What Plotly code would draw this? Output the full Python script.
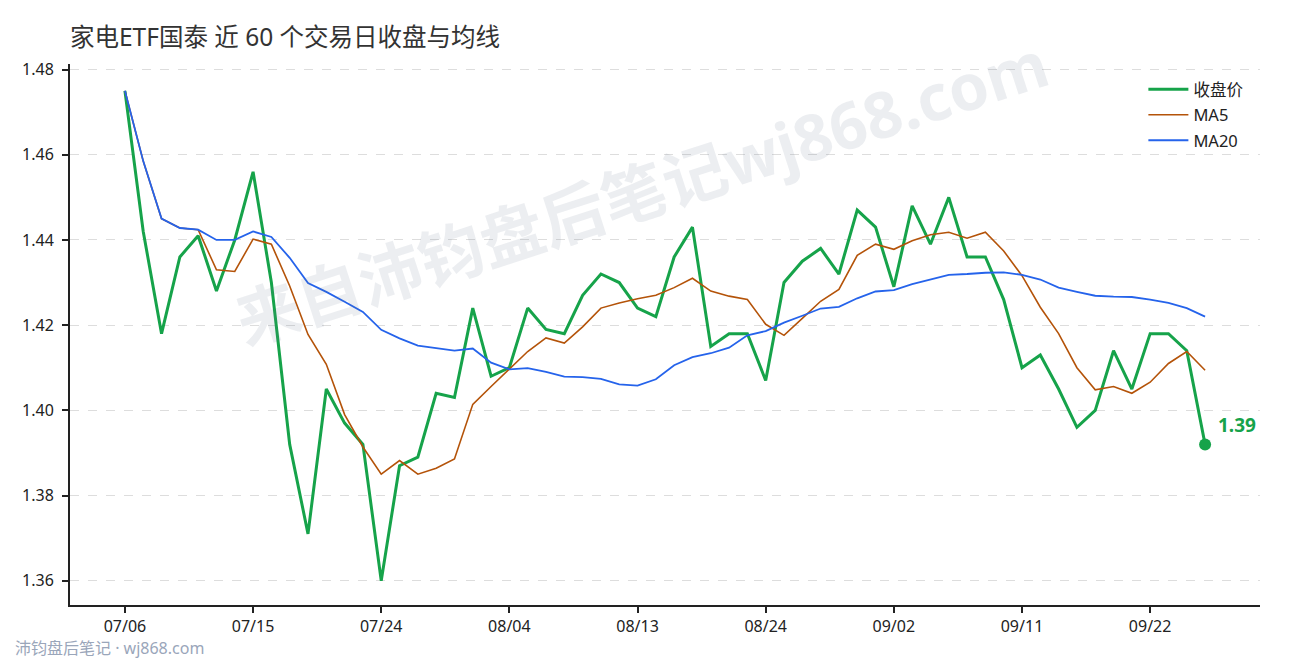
import plotly.graph_objects as go

# 近 60 个交易日
dates = [
    "07/06", "07/07", "07/08", "07/09", "07/10", "07/13", "07/14", "07/15", "07/16", "07/17",
    "07/20", "07/21", "07/22", "07/23", "07/24", "07/27", "07/28", "07/29", "07/30", "07/31",
    "08/03", "08/04", "08/05", "08/06", "08/07", "08/10", "08/11", "08/12", "08/13", "08/14",
    "08/17", "08/18", "08/19", "08/20", "08/21", "08/24", "08/25", "08/26", "08/27", "08/28",
    "08/31", "09/01", "09/02", "09/03", "09/04", "09/07", "09/08", "09/09", "09/10", "09/11",
    "09/14", "09/15", "09/16", "09/17", "09/18", "09/21", "09/22", "09/23", "09/24", "09/25",
]

close = [
    1.475, 1.442, 1.418, 1.436, 1.441, 1.428, 1.440, 1.456, 1.430, 1.392,
    1.371, 1.405, 1.397, 1.392, 1.360, 1.387, 1.389, 1.404, 1.403, 1.424,
    1.408, 1.410, 1.424, 1.419, 1.418, 1.427, 1.432, 1.430, 1.424, 1.422,
    1.436, 1.443, 1.415, 1.418, 1.418, 1.407, 1.430, 1.435, 1.438, 1.432,
    1.447, 1.443, 1.429, 1.448, 1.439, 1.450, 1.436, 1.436, 1.426, 1.410,
    1.413, 1.405, 1.396, 1.400, 1.414, 1.405, 1.418, 1.418, 1.414, 1.392,
]

ma5 = [
    1.4750, 1.4585, 1.4450, 1.4428, 1.4424, 1.4330, 1.4326, 1.4402, 1.4390, 1.4292,
    1.4178, 1.4108, 1.3990, 1.3914, 1.3850, 1.3882, 1.3850, 1.3864, 1.3886, 1.4014,
    1.4056, 1.4098, 1.4138, 1.4170, 1.4158, 1.4196, 1.4240, 1.4252, 1.4262, 1.4270,
    1.4288, 1.4310, 1.4280, 1.4268, 1.4260, 1.4202, 1.4176, 1.4216, 1.4256, 1.4284,
    1.4364, 1.4390, 1.4378, 1.4398, 1.4412, 1.4418, 1.4404, 1.4418, 1.4374, 1.4316,
    1.4242, 1.4180, 1.4100, 1.4048, 1.4056, 1.4040, 1.4066, 1.4110, 1.4138, 1.4094,
]

ma20 = [
    1.4750, 1.4585, 1.4450, 1.4428, 1.4424, 1.4400, 1.4400, 1.4420, 1.4407, 1.4358,
    1.4299, 1.4278, 1.4255, 1.4231, 1.4189, 1.4169, 1.4152, 1.4146, 1.4140, 1.4145,
    1.4112, 1.4096, 1.4099, 1.4090, 1.4079, 1.4078, 1.4074, 1.4061, 1.4058, 1.4073,
    1.4106, 1.4125, 1.4134, 1.4147, 1.4176, 1.4186, 1.4206, 1.4222, 1.4239, 1.4243,
    1.4263, 1.4279, 1.4282, 1.4296, 1.4307, 1.4318, 1.4320, 1.4323, 1.4324, 1.4318,
    1.4307, 1.4288, 1.4278, 1.4269, 1.4267, 1.4266, 1.4260, 1.4252, 1.4240, 1.4220,
]

tick_idx = [0, 7, 14, 21, 28, 35, 42, 49, 56]
y_ticks = [1.36, 1.38, 1.40, 1.42, 1.44, 1.46, 1.48]

GREEN = "#16a34a"
ORANGE = "#b45309"
BLUE = "#2563eb"
FONT = "Noto Sans, Noto Sans CJK SC"

idx = list(range(len(close)))

fig = go.Figure()
fig.add_trace(go.Scatter(x=idx, y=close, mode="lines", name="收盘价",
                         line=dict(color=GREEN, width=3), legendgroup="a"))
fig.add_trace(go.Scatter(x=idx, y=ma5, mode="lines", name="MA5",
                         line=dict(color=ORANGE, width=1.6), legendgroup="b"))
fig.add_trace(go.Scatter(x=idx, y=ma20, mode="lines", name="MA20",
                         line=dict(color=BLUE, width=1.8), legendgroup="c"))
fig.add_trace(go.Scatter(x=[idx[-1]], y=[close[-1]], mode="markers", showlegend=False,
                         marker=dict(color=GREEN, size=12)))

fig.add_annotation(x=idx[-1], y=close[-1], text=f"<b>{close[-1]:.2f}</b>",
                   showarrow=False, xanchor="left", yanchor="middle",
                   xshift=11, yshift=19, font=dict(color=GREEN, size=19, family=FONT))

# watermark
fig.add_annotation(x=0.48, y=1.088, xref="paper", yref="paper",
                   text="<b>来自沛钧盘后笔记wj868.com</b>", showarrow=False,
                   textangle=-18, font=dict(size=64, color="rgba(100,116,139,0.12)", family=FONT))

fig.add_annotation(x=-0.048, y=-0.0795, xref="paper", yref="paper", yanchor="middle",
                   xanchor="left", text="沛钧盘后笔记 · wj868.com", showarrow=False,
                   font=dict(size=16, color="#9aa6ba", family=FONT))

# the page adds an 8px body margin, so the figure is 8px smaller than the window
fig.update_layout(
    width=1282, height=652,
    margin=dict(l=62, r=30, t=56, b=55),
    paper_bgcolor="white", plot_bgcolor="white",
    font=dict(family=FONT, size=16, color="#222"),
    title=dict(text="家电ETF国泰 近 60 个交易日收盘与均线", x=0, xref="paper", xanchor="left",
               y=0.9555, yanchor="middle", font=dict(size=24.5, color="#333")),
    legend=dict(x=0.902, y=0.985, xanchor="left", yanchor="top", itemwidth=40,
                bgcolor="rgba(0,0,0,0)", font=dict(size=16.5), tracegroupgap=1),
    showlegend=True,
)
fig.update_xaxes(range=[-3, 62], tickmode="array", tickvals=tick_idx,
                 ticktext=[dates[i] for i in tick_idx], showgrid=False,
                 showline=True, linecolor="#222", linewidth=2, ticks="outside",
                 ticklen=6, tickwidth=2, tickcolor="#222", zeroline=False)
fig.update_yaxes(range=[1.3543, 1.4813], tickmode="array",
                 tickvals=y_ticks, ticktext=[f"{v:.2f}" for v in y_ticks],
                 showgrid=True, gridcolor="#dddddd", griddash="dash", gridwidth=1,
                 showline=True, linecolor="#222", linewidth=2, ticks="outside",
                 ticklen=6, tickwidth=2, tickcolor="#222", zeroline=False,
                 ticklabelstandoff=5)

fig.write_html("out.html")
